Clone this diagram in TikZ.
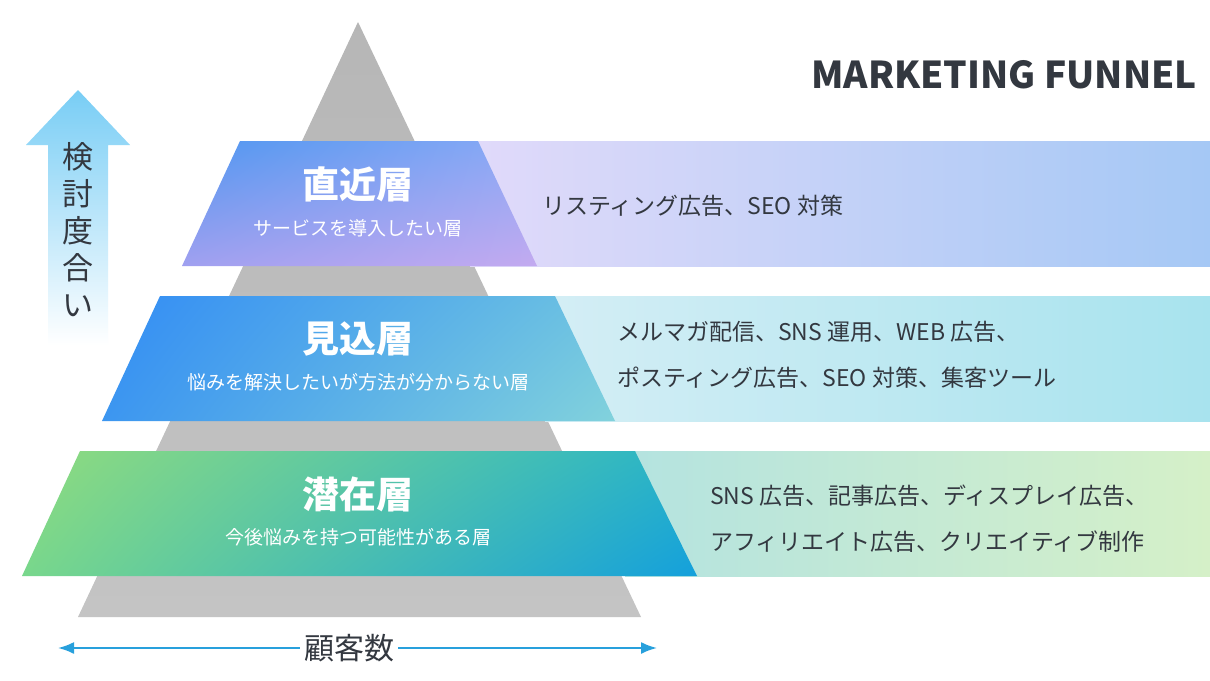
\documentclass[tikz,border=0pt]{standalone}
\usepackage{fontspec}
\setmainfont{Noto Sans CJK JP}
\usetikzlibrary{arrows.meta,shadings}
\definecolor{tri}{HTML}{C4C4C4}
\definecolor{ttl}{HTML}{333840}
\definecolor{aUL}{RGB}{80,150,240}\definecolor{aUR}{RGB}{140,170,245}
\definecolor{aLL}{RGB}{160,160,240}\definecolor{aLR}{RGB}{195,170,240}
\definecolor{bUL}{RGB}{50,140,245}\definecolor{bUR}{RGB}{110,195,225}
\definecolor{bLL}{RGB}{60,150,240}\definecolor{bLR}{RGB}{130,210,220}
\definecolor{cUL}{RGB}{145,220,125}\definecolor{cUR}{RGB}{40,180,200}
\definecolor{cLL}{RGB}{120,215,140}\definecolor{cLR}{RGB}{20,160,220}
\definecolor{arr}{RGB}{40,160,220}
\definecolor{va}{RGB}{120,205,245}
\definecolor{r1L}{RGB}{225,218,250}\definecolor{r1R}{RGB}{165,200,245}
\definecolor{r2L}{RGB}{212,238,245}\definecolor{r2R}{RGB}{168,227,238}
\definecolor{r3L}{RGB}{180,227,224}\definecolor{r3R}{RGB}{213,240,200}
\tikzset{
 big/.style={text=white,font=\fontsize{18.5}{21}\selectfont\bfseries},
 small/.style={text=white,font=\fontsize{9.5}{11}\selectfont},
 side/.style={text=ttl,font=\fontsize{11.5}{23}\selectfont,align=left,anchor=west},
}
\begin{document}
\begin{tikzpicture}[x=0.5pt,y=-0.5pt]
\useasboundingbox (0,0) rectangle (1210,680);
\fill[white] (0,0) rectangle (1210,680);
\shade[top color=tri!80!gray, bottom color=tri] (358,22) -- (641,617) -- (78,617) -- cycle;
\shade[left color=r1L, right color=r1R] (470,141) rectangle (1210,266);
\shade[left color=r2L, right color=r2R] (545,296) rectangle (1210,421);
\shade[left color=r3L, right color=r3R] (625,451) rectangle (1210,576);
\shade[upper left=aUL, upper right=aUR, lower left=aLL, lower right=aLR]
 (240,141) -- (478,141) -- (537,266) -- (182,266) -- cycle;
\shade[upper left=bUL, upper right=bUR, lower left=bLL, lower right=bLR]
 (160,296) -- (555,296) -- (615,421) -- (102,421) -- cycle;
\shade[upper left=cUL, upper right=cUR, lower left=cLL, lower right=cLR]
 (80,451) -- (635,451) -- (697,576) -- (22,576) -- cycle;
\node[big] (t1) at (358,184) {直近層};
\node[small] (s1) at (358,228) {サービスを導入したい層};
\node[big] (t2) at (358,339) {見込層};
\node[small] (s2) at (358,382) {悩みを解決したいが方法が分からない層};
\node[big] (t3) at (358,494) {潜在層};
\node[small] (s3) at (358,537) {今後悩みを持つ可能性がある層};
\node[side] (r1) at (535,206) {リスティング広告、SEO 対策};
\node[side] (r2) at (610,355) {メルマガ配信、SNS 運用、WEB 広告、\\ポスティング広告、SEO 対策、集客ツール};
\node[side] (r3) at (703,519) {SNS 広告、記事広告、ディスプレイ広告、\\アフィリエイト広告、クリエイティブ制作};
\node[anchor=east,text=ttl,font=\fontsize{18.5}{22}\selectfont\bfseries] (title) at (1204,75) {MARKETING FUNNEL};
\shade[top color=va, bottom color=white] (78,90) -- (130,145) -- (108,145) -- (108,345) -- (48,345) -- (48,145) -- (26,145) -- cycle;
\node[text=ttl,font=\fontsize{15.5}{18.5}\selectfont,align=center] (va) at (78,230) {検\\討\\度\\合\\い};
\node[text=ttl,font=\fontsize{15}{17}\selectfont,fill=white,inner sep=2pt] (cnt) at (349,648) {顧客数};
\coordinate (hl) at (58,648);
\coordinate (hr) at (657,648);
\draw[{Latex[length=8pt,width=6pt]}-,color=arr,line width=1pt] (hl) -- (cnt.west);
\draw[-{Latex[length=8pt,width=6pt]},color=arr,line width=1pt] (cnt.east) -- (hr);
\end{tikzpicture}
\end{document}
